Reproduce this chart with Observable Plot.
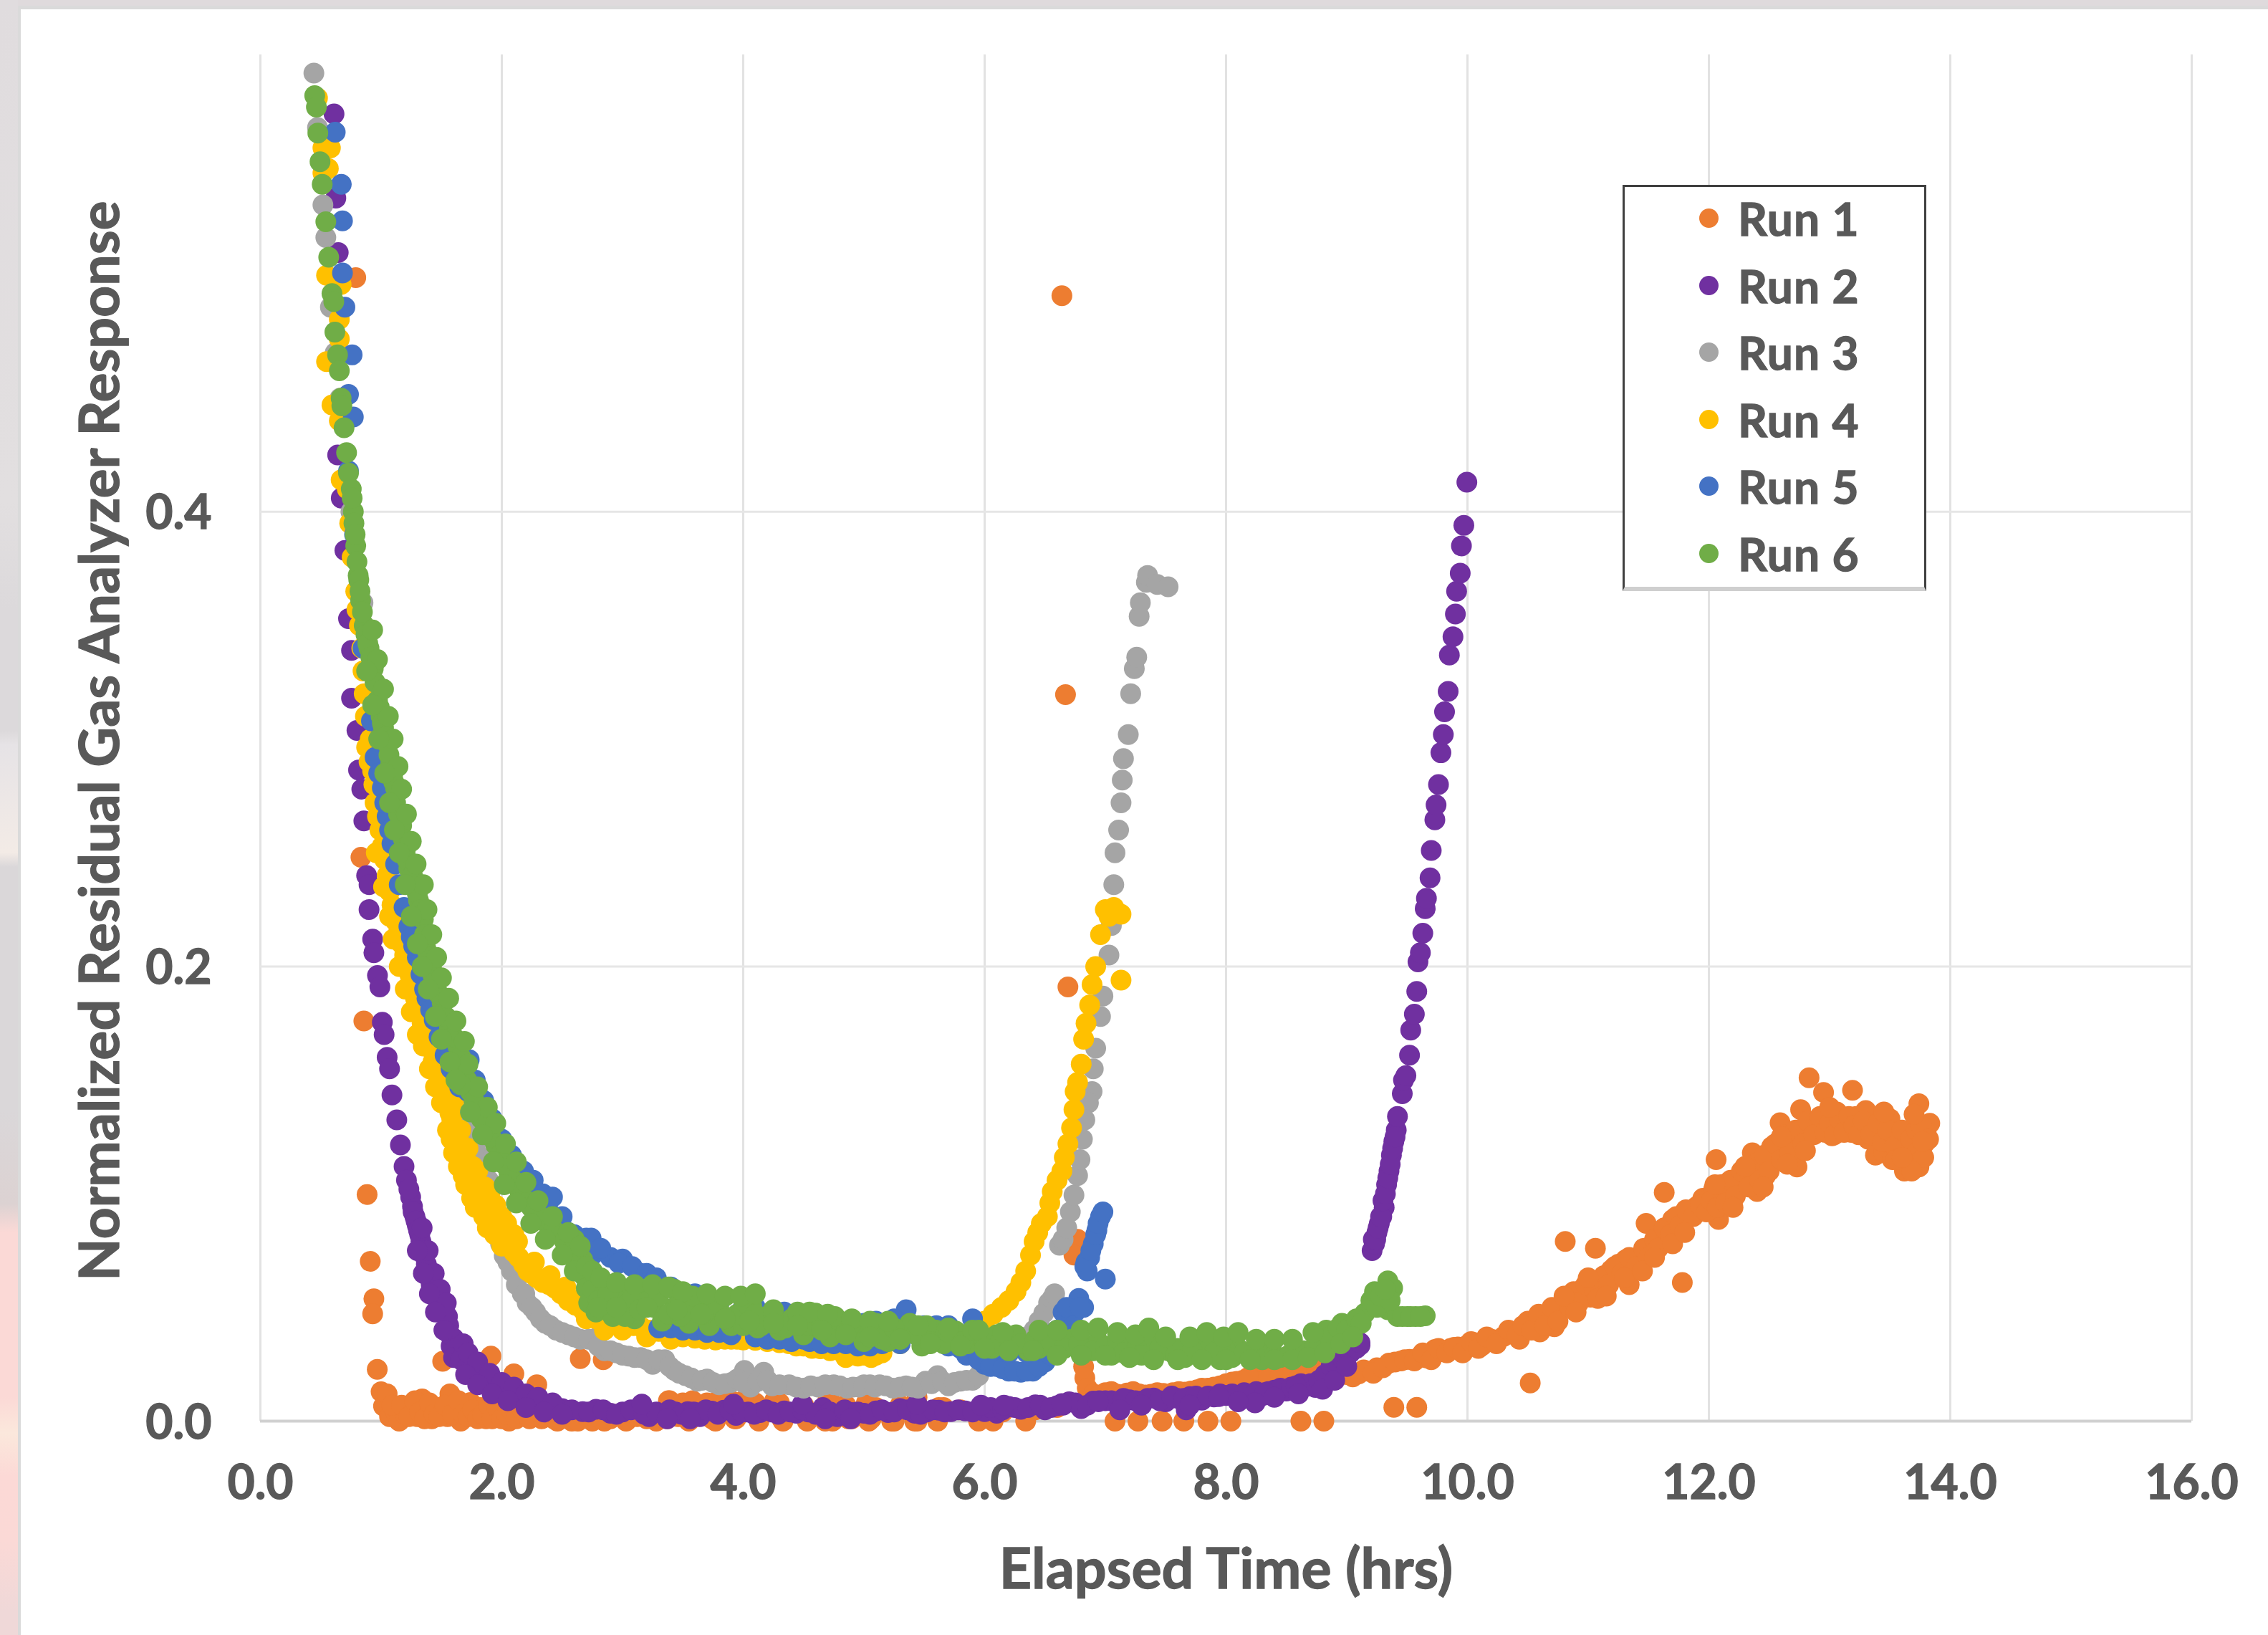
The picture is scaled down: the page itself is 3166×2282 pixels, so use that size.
<!DOCTYPE html>
<html>
<head>
<meta charset="utf-8">
<script src="https://cdn.jsdelivr.net/npm/d3@7"></script>
<script src="https://cdn.jsdelivr.net/npm/@observablehq/plot@0.6"></script>
<style>
html,body{margin:0;padding:0;width:3166px;height:2282px;overflow:hidden;background:#dfdadc;font-family:Lato,sans-serif}
#leftStrip{position:absolute;left:0;top:0;width:25px;height:2282px;background:linear-gradient(180deg,#e0dcde 0,#e2dfe0 700px,#dcd9db 850px,#dcd9db 1020px,#e6e3e6 1040px,#f3ebe6 1190px,#dad7d9 1210px,#dad7d9 1550px,#dcd2d2 1680px,#fbd9d6 1720px,#fbd9d6 1950px,#fbe8dc 2000px,#fcd9d6 2060px,#fbd9d6 2150px,#efd8d8 2250px)}
#frame{position:absolute;left:25px;top:8px;width:3141px;height:2274px;background:#dadada}
#card{position:absolute;left:29px;top:13px;width:3137px;height:2269px;background:#fff}
#chart{position:absolute;left:29px;top:13px}
#chart svg text{stroke:#595959;stroke-width:1.3px}
#legend{position:absolute;left:2265px;top:258px;width:418px;height:558px;background:#fff;border:3px solid #404040;border-bottom:6px solid #cfcfcf}
.row{position:absolute;left:0;height:60px;display:flex;align-items:center;color:#595959;font-weight:700;font-size:64px;letter-spacing:1px;-webkit-text-stroke:1.3px #595959}
.swatch{position:absolute;left:104px;width:27px;height:27px;border-radius:50%;top:16px}
.row span.t{position:absolute;left:158px;top:-6px;line-height:72px;white-space:nowrap}
</style>
</head>
<body>
<div id="leftStrip"></div><div id="frame"></div><div id="card"></div>
<div id="chart"></div><div id="legend"></div>
<script>
const runNames = ["Run 1","Run 2","Run 3","Run 4","Run 5","Run 6"];
const runColors = ["#ED7D31","#7030A0","#A5A5A5","#FFC000","#4472C4","#70AD47"];
const xTicks = [0,2,4,6,8,10,12,14,16];
const yTicks = [0,0.2,0.4];
const xTitle = "Elapsed Time (hrs)";
const yTitle = "Normalized Residual Gas Analyzer Response";

const run1 = [[.79,.503],[.833,.248],[.857,.176],[.884,.0997],[.91,.0703],[.94,.0538],[.93,.0472],[.968,.0228],[1.0,.0129],[1.02,.0066],[1.05,.012],[1.07,.002],[1.12,.004],[1.15,0],[1.2,.003],[1.26,.0066],[1.3,.002],[1.34,.0098],[1.38,.004],[1.42,.001],[1.46,.006],[1.51,.0263],[1.55,.002],[1.57,.012],[1.62,.005],[1.66,0],[1.7,.007],[1.74,.0082],[1.78,.002],[1.82,.006],[1.91,.0286],[1.87,.001],[1.94,.005],[1.98,.002],[2.02,.006],[2.06,0],[2.1,.0208],[2.14,.004],[2.2,.002],[2.29,.016],[2.27,.003],[2.33,.001],[2.4,.003],[2.46,0],[2.52,.002],[2.58,0],[2.65,.0275],[2.84,.027],[2.7,.002],[2.78,.001],[2.85,0],[2.94,.003],[3.03,0],[3.12,.002],[3.2,.001],[3.28,0],[3.38,.009],[3.46,.002],[3.5,.008],[3.55,0],[3.7,.008],[3.74,.001],[3.9,.009],[3.93,.001],[4.1,.008],[4.13,0],[4.3,.008],[4.33,0],[4.5,.007],[4.53,0],[4.7,.009],[4.74,0],[4.85,.007],[4.9,.001],[5.04,0],[5.1,.006],[5.23,0],[5.3,.007],[5.42,0],[5.44,.0105],[5.61,0],[5.66,.006],[5.8,.005],[5.95,0],[6.07,0],[6.15,.004],[6.34,0],[6.42,.005],[6.6,.006],
[6.64,.495],[6.67,.3196],[6.69,.191],[6.77,.08],[6.74,.073],
[6.82,.024],[6.83,.019],[6.85,.0145],[6.9,.012],[7.0,.0125],[7.08,0],[7.1,.0118],[7.18,.0124],[7.27,0],[7.28,.012],[7.38,.0118],[7.47,0],[7.48,.0122],[7.56,.0125],[7.65,0],[7.66,.0128],[7.76,.0138],[7.85,0],[7.85,.0145],[7.95,.0155],[8.04,0],[8.05,.0172],[8.14,.018],[8.24,.0205],[8.3,.02],[8.4,.0205],[8.5,.021],[8.62,0],[8.6,.0212],[8.7,.0214],[8.81,0],[8.8,.0216],[8.9,.0214],[9.0,.0205],[9.1,.0208],[9.18,.022],[9.25,.0235],[9.35,.0255],[9.39,.0061],[9.45,.0265],[9.52,.0272],[9.58,.0061],[9.6,.0282],[9.66,.0278],[9.73,.0315],[9.8,.0305],[9.86,.032],[9.92,.0326],[10.0,.0335],[10.06,.0345],[10.12,.0332],[10.2,.036],[10.3,.0373],[10.38,.039],[10.43,.036],[10.5,.044],[10.52,.0168],[10.56,.0444],[10.6,.0392],[10.68,.046],[10.72,.0415],[10.81,.079],[10.78,.049],[10.82,.0515],[10.9,.0555],[10.95,.058],[11.02,.0545],[11.06,.076],[11.1,.057],[11.15,.063],[11.19,.0665],[11.25,.069],[11.31,.071],[11.34,.06],[11.37,.0705],[11.43,.0727],[11.48,.087],[11.52,.0765],[11.6,.08],[11.63,.1006],[11.66,.0845],[11.7,.0887],[11.78,.061],[11.78,.0905],[11.84,.092],[11.9,.0945],[11.95,.098],[12.0,.0976],[12.04,.102],[12.06,.115],[12.08,.0887],[12.12,.0995],[12.16,.105],[12.2,.101],[12.25,.107],[12.3,.105],[12.36,.118],[12.35,.109],[12.4,.101],[12.44,.113],[12.47,.108],[12.52,.1207],[12.57,.118],[12.59,.1313],[12.64,.122],[12.69,.125],[12.73,.1118],[12.76,.137],[12.75,.124],[12.8,.128],[12.83,.151],[12.85,.13],[12.89,.1295],[12.95,.1446],[12.94,.128],[12.98,.134],[13.02,.1255],[13.06,.136],[13.1,.129],[13.14,.1295],[13.19,.1455],[13.18,.127],[13.22,.134],[13.26,.128],[13.3,.1366],[13.32,.124],[13.36,.13],[13.38,.117],[13.42,.127],[13.45,.118],[13.5,.133],[13.52,.115],[13.55,.126],[13.58,.1224],[13.62,.11],[13.65,.12],[13.68,.115],[13.7,.127],[13.74,.1396],[13.74,.1118],[13.76,.118],[13.79,.1224],[13.8,.127],[13.83,.131],
[1.09,.007],[1.17,.007],[1.23,.002],[1.28,.009],[1.32,.004],[1.36,.001],[1.4,.008],[1.44,.003],[1.48,.002],[1.53,.007],[1.59,.003],[1.64,.009],[1.68,.003],[1.72,.002],[1.76,.005],[1.8,.001],[1.84,.003],[1.89,.007],[1.92,.001],[1.96,.006],[2.0,.001],[2.04,.003],[2.08,.005],[2.12,.001],[2.17,.005],[2.23,.001],[2.3,.004],[2.36,.002],[2.43,.001],[2.49,.002],[2.55,.001],[2.62,.001],[2.75,0],[2.9,.001],
[2.48,.001],[2.63,0],[2.82,.001],[3.37,.001],[3.56,.001],[3.77,0],[3.94,.001],[4.32,.001],[4.68,0],[4.87,.001],[5.06,.001],[5.25,0],[5.44,0],[3.39,.009],[3.58,.009],[3.79,.009],[4.0,.009],[4.26,.009],[4.72,.009],[5.02,.008],[5.62,.006],
[6.95,.0115],[7.05,.013],[7.14,.0115],[7.23,.013],[7.33,.0115],[7.43,.0125],[7.52,.0115],[7.61,.013],[7.71,.0132],[7.8,.0145],[7.9,.015],[8.0,.0165],[8.09,.0175],[8.19,.0195],[8.35,.0195],[8.45,.02],[8.55,.021],[8.65,.0205],[8.75,.0222],[8.85,.0205],[8.95,.021],[9.05,.0195],[9.14,.0225],[9.22,.021],[9.3,.0235],[9.4,.026],[9.48,.027],[9.56,.0265],[9.63,.03],[9.7,.027],[9.76,.032],[9.83,.03],[9.89,.0325],[9.96,.03],[10.03,.035],[10.09,.032],[10.16,.037],[10.24,.034],[10.34,.04],[10.41,.038],[10.46,.042],[10.53,.04],[10.59,.047],[10.64,.042],[10.7,.05],[10.75,.044],[10.85,.05],[10.88,.057],[10.92,.052],[10.98,.06],[11.05,.058],[11.08,.054],[11.13,.064],[11.17,.06],[11.22,.068],[11.28,.065],[11.34,.072],[11.4,.068],[11.46,.076],[11.5,.072],[11.55,.08],[11.58,.076],[11.63,.085],[11.68,.082],[11.73,.09],[11.76,.086],[11.81,.093],[11.87,.09],[11.93,.095],[11.98,.092],[12.02,.097],[12.07,.094],[12.1,.104],[12.14,.096],[12.18,.106],[12.22,.099],[12.27,.11],[12.33,.103],[12.38,.113],[12.42,.106],[12.46,.117],[12.5,.11],[12.55,.122],[12.6,.115],[12.62,.126],[12.67,.118],[12.72,.128],[12.78,.122],[12.82,.132],[12.87,.126],[12.92,.134],[12.96,.127],[13.0,.131],[13.04,.126],[13.08,.133],[13.12,.127],[13.16,.134],[13.2,.13],[13.24,.126],[13.28,.132],[13.34,.126],[13.4,.131],[13.44,.123],[13.48,.128],[13.54,.121],[13.6,.128],[13.63,.116],[13.67,.124],[13.72,.128],[13.72,.118],[13.78,.116],[13.76,.13],[13.82,.124],[13.68,.11],
[10.8,.055],[10.9,.048],[11.0,.063],[11.15,.055],[11.3,.063],[11.45,.066],[11.55,.072],[11.7,.078],[11.8,.083],[12.05,.104],[12.2,.094],[12.3,.112],[12.45,.103],[12.6,.125],[12.65,.113],[12.8,.119],[13.0,.138],[13.45,.136],[13.55,.115],[13.7,.135],[13.77,.123],[13.6,.116]];

const run2 = [[.61,.575],[.625,.538],[.645,.514],[.64,.425],[.67,.406],[.7,.383],[.73,.353],[.755,.339],[.755,.318],[.80,.3038],[.813,.2864],[.84,.278],[.857,.264],[.88,.24],[.9,.236],[.9,.225],[.93,.212],[.94,.206],[.97,.196],[.99,.191],[1.01,.1755],[1.025,.17],[1.05,.16],[1.07,.155],[1.09,.1435],[1.13,.1325],[1.16,.1215],[1.19,.112],[1.21,.106],[1.245,.0986],[1.26,.0945],[1.28,.09],[1.3,.086],[1.32,.082],[1.34,.077],[1.36,.0727],[1.39,.065],[1.415,.06],[1.45,.055],[1.49,.0507],[1.55,.046],[1.6,.0365],[1.58,.033],[1.64,.0286],[1.68,.0265],[1.76,.0223],[1.84,.019],[1.91,.016],[2.0,.014],[2.1,.0113],[2.2,.009],[2.29,.0074],[2.4,.0065],[2.5,.0055],[2.67,.0042],[2.78,.0052],[2.9,.0035],[3.0,.004],[3.14,.005],[3.22,.002],[3.34,.0032],[3.44,.004],[3.54,.0042],[3.64,.002],[3.74,.0044],[3.84,.0048],[3.94,.0025],[4.04,.004],[4.14,.0038],[4.24,.004],[4.34,.0045],[4.44,.0035],[4.54,.004],[4.66,.006],[4.78,.002],[4.9,.0038],[5.0,.0035],[5.1,.0045],[5.2,.0038],[5.3,.0055],[5.42,.0035],[5.52,.004],[5.62,.0048],[5.72,.0042],[5.84,.0045],[5.95,.0052],[6.0,.0042],[6.1,.0035],[6.2,.0065],[6.3,.0052],[6.42,.0072],[6.5,.005],[6.6,.0068],[6.7,.0085],[6.8,.0055],[6.9,.0088],[7.0,.009],[7.1,.0082],[7.2,.0094],[7.3,.0088],[7.4,.0102],[7.5,.0085],[7.6,.01],[7.7,.0108],[7.8,.0092],[7.9,.0106],[8.0,.0113],[8.1,.0105],[8.2,.012],[8.3,.0112],[8.4,.0136],[8.5,.0132],[8.58,.0145],[8.66,.0152],[8.74,.0148],[8.8,.0176],[8.84,.0195],[8.89,.0223],[8.94,.0256],[9.0,.0286],[9.05,.032],[9.11,.0334],
[9.21,.075],[9.23,.078],[9.25,.083],[9.27,.087],[9.29,.09],[9.31,.094],[9.33,.104],[9.35,.11],[9.37,.117],[9.39,.123],[9.41,.128],[9.42,.134],[9.46,.144],[9.47,.15],[9.49,.152],[9.52,.161],[9.53,.172],[9.56,.179],[9.58,.189],[9.59,.202],[9.61,.206],[9.63,.2146],[9.65,.2254],[9.66,.23],[9.69,.239],[9.7,.251],[9.73,.2645],[9.74,.271],[9.76,.28],[9.78,.294],[9.8,.302],[9.81,.312],[9.84,.321],[9.85,.337],[9.88,.345],[9.9,.355],[9.91,.365],[9.94,.373],[9.95,.385],[9.97,.394],[9.995,.413],
[1.23,.102],[1.265,.092],[1.29,.088],[1.31,.084],[1.33,.079],[1.35,.075],[1.375,.069],[1.4,.063],[1.43,.058],[1.47,.053],[1.52,.048],[1.56,.042],[1.57,.038],[1.62,.032],[1.6,.028],[1.66,.027],[1.72,.024],[1.8,.02],[1.88,.017],[1.95,.015],[2.05,.0125],[2.15,.01],[2.25,.008],[2.35,.007],[2.45,.006],[2.58,.005],[2.72,.004],[2.84,.005],[2.95,.003],[3.07,.005],[3.18,.003],[3.28,.004],[3.39,.005],[3.49,.003],[3.59,.004],[3.69,.005],[3.79,.003],[3.89,.005],[3.99,.004],[4.09,.003],[4.19,.005],[4.29,.003],[4.39,.004],[4.49,.005],[4.6,.003],[4.72,.004],[4.84,.005],[4.95,.004],[5.05,.003],[5.15,.005],[5.25,.004],[5.36,.005],[5.47,.003],[5.57,.005],[5.67,.004],[5.78,.005],[5.9,.004],[6.05,.006],[6.15,.005],[6.25,.006],[6.36,.006],[6.46,.007],[6.55,.006],[6.65,.007],[6.75,.008],[6.85,.007],[6.95,.009],[7.05,.009],[7.15,.01],[7.25,.009],[7.35,.01],[7.45,.009],[7.55,.011],[7.65,.01],[7.75,.011],[7.85,.011],[7.95,.012],[8.05,.012],[8.15,.0125],[8.25,.013],[8.35,.013],[8.45,.0145],[8.54,.015],[8.62,.0165],[8.7,.0165],[8.77,.018],[8.82,.0205],[8.87,.024],[8.92,.024],[8.97,.027],[9.03,.03],[9.08,.032],[9.11,.0345],[9.22,.08],[9.24,.08],[9.26,.085],[9.28,.09],[9.3,.097],[9.32,.1],[9.34,.107],[9.36,.113],[9.38,.12],[9.4,.125],
[3.16,.0075],[3.92,.0075],[4.49,.0075],[5.44,.0075],[3.37,.001],[3.56,.001],[4.68,.001],[4.89,.001],[5.97,.007],[6.16,.007],[6.64,.0077],[6.94,.0085],[7.94,.0108],[8.32,.0125],[8.58,.0155],[7.12,.005],[7.67,.005],[8.24,.008],[7.3,.007],[7.7,.007],[8.1,.0085],[8.4,.0105],[8.6,.012],[8.8,.014],[8.9,.018],[9.0,.024],
[1.68,.034],[1.72,.03],[1.8,.026],[1.9,.021],[2.0,.017],[2.1,.015],[2.2,.012],[2.3,.0105],[2.42,.008],[1.7,.0205],[1.8,.016],[1.92,.012],[2.05,.009],[2.2,.006],[2.35,.004],[2.5,.003],[1.34,.085],[1.39,.075],[1.44,.065],[1.49,.058],[1.54,.052],[1.3,.075],[1.35,.065],[1.4,.056],[1.45,.048],[1.52,.04]];

const run3 = [[.443,.593],[.473,.569],[.518,.535],[.542,.5206],[.58,.49],[.62,.47],[.66,.45],[.7,.44],[.75,.4],[.85,.36],[.95,.32],[1.05,.28],[1.2,.22],[1.35,.185],[1.5,.16],[1.59,.15],[1.64,.14],[1.7,.1325],[1.75,.125],[1.81,.1167],[1.86,.11],[1.91,.1026],[1.93,.0837],[1.96,.092],[2.02,.0727],[2.08,.066],[2.14,.0648],[2.17,.056],[2.21,.052],[2.28,.048],[2.36,.043],[2.45,.04],[2.55,.038],[2.65,.036],[2.78,.0365],[2.85,.031],[2.95,.03],[3.05,.0286],[3.15,.028],[3.25,.025],[3.35,.027],[3.43,.0223],[3.52,.02],[3.62,.0176],[3.7,.0185],[3.8,.016],[3.9,.017],[4.01,.0223],[4.06,.015],[4.17,.0215],[4.24,.0155],[4.38,.016],[4.5,.0145],[4.62,.015],[4.75,.016],[4.86,.0145],[4.96,.015],[5.05,.016],[5.13,.016],[5.24,.0145],[5.35,.0155],[5.45,.0145],[5.51,.0176],[5.61,.02],[5.7,.0155],[5.8,.0176],[5.9,.018],[6.0,.024],[6.1,.027],[6.2,.03],[6.3,.035],[6.41,.04],[6.89,.145],[6.86,.14],[6.9,.155],[6.92,.164],[6.96,.178],[6.98,.187],[7.03,.205],[7.05,.218],[7.07,.236],[7.08,.25],[7.11,.26],[7.13,.272],[7.14,.282],[7.15,.2914],[7.19,.302],[7.21,.32],[7.24,.331],[7.26,.336],[7.28,.354],[7.29,.36],[7.34,.369],[7.35,.372],[7.43,.368],[7.52,.367],
[.98,.31],[1.1,.26],[1.25,.21],[1.42,.175],[1.55,.155],[1.62,.145],[1.67,.137],[1.73,.128],[1.78,.121],[1.84,.113],[1.89,.106],[1.92,.095],[1.95,.086],[1.99,.078],[2.05,.07],[2.1,.067],[2.12,.06],[2.19,.056],[2.25,.05],[2.32,.045],[2.4,.042],[2.5,.039],[2.6,.037],[2.72,.036],[2.8,.033],[2.9,.031],[3.0,.029],[3.1,.028],[3.2,.027],[3.3,.027],[3.39,.024],[3.47,.021],[3.57,.019],[3.66,.018],[3.75,.017],[3.85,.0165],[3.95,.0185],[4.0,.017],[4.12,.0175],[4.2,.018],[4.3,.016],[4.44,.015],[4.56,.0155],[4.68,.016],[4.8,.0155],[4.91,.015],[5.0,.016],[5.09,.015],[5.18,.0155],[5.3,.015],[5.4,.015],[5.56,.0165],[5.65,.0175],[5.75,.017],[5.85,.018],[5.95,.02],[6.05,.025],[6.15,.029],[6.25,.032],[6.35,.037],[6.45,.044],[6.49,.0475],[6.53,.052],[6.56,.054],[6.58,.056],[6.62,.0774],[6.65,.08],[6.68,.085],[6.71,.092],[6.74,.0994],[6.77,.108],[6.79,.115],[6.81,.124],[6.83,.1325]];

const run4 = [[.473,.582],[.518,.56],[.58,.56],[.518,.549],[.563,.551],[.548,.504],[.669,.5],[.654,.4846],[.654,.476],[.548,.466],[.593,.447],[.654,.44],[.669,.414],[.72,.41],[.76,.38],[.82,.35],[.88,.2964],[.86,.32],[.93,.286],[.95,.272],[.99,.26],[1.03,.247],[1.07,.233],[1.12,.22],[1.17,.21],[1.22,.2],[1.26,.191],[1.31,.18],[1.38,.169],[1.43,.158],[1.49,.15],[1.53,.143],[1.57,.1356],[1.6,.13],[1.64,.1246],[1.68,.117],[1.72,.11],[1.78,.104],[1.83,.098],[1.9,.092],[1.985,.0853],[2.04,.08],[2.1,.0743],[2.18,.069],[2.25,.0648],[2.34,.061],[2.44,.0585],[2.55,.053],[2.67,.049],[2.78,.045],[2.9,.0428],[3.02,.044],[3.16,.0412],[3.3,.0395],[3.43,.038],[3.6,.0365],[3.77,.0357],[3.9,.036],[4.0,.0357],[4.2,.035],[4.38,.034],[4.5,.033],[4.64,.0318],[4.8,.031],[4.85,.028],[4.95,.0286],[5.06,.028],[5.15,.03],[5.3,.034],[5.5,.035],[5.7,.036],[5.9,.038],
[6.0,.044],[6.07,.047],[6.14,.05],[6.2,.053],[6.26,.057],[6.3,.061],[6.34,.066],[6.38,.073],[6.41,.079],[6.44,.083],[6.47,.087],[6.52,.09],[6.54,.096],[6.56,.101],[6.6,.106],[6.64,.11],[6.66,.116],[6.69,.122],[6.72,.129],[6.74,.137],[6.75,.145],[6.77,.149],[6.8,.157],[6.82,.168],[6.84,.175],[6.87,.183],[6.89,.192],[6.92,.2],[6.96,.214],[7.0,.225],[7.07,.226],[7.03,.222],[7.13,.223],[7.13,.194],
[.74,.395],[.79,.365],[.8,.357],[.84,.34],[.85,.33],[.87,.31],[.9,.29],[.91,.3],[.94,.28],[.97,.266],[1.01,.253],[1.05,.24],[1.09,.227],[1.145,.215],[1.195,.205],[1.24,.196],[1.285,.186],[1.34,.175],[1.405,.164],[1.46,.154],[1.51,.147],[1.55,.14],[1.585,.133],[1.62,.127],[1.66,.121],[1.7,.114],[1.75,.107],[1.8,.101],[1.865,.095],[1.94,.088],[2.01,.083],[2.07,.077],[2.14,.072],[2.215,.066],[2.29,.063],[2.39,.06],[2.49,.056],[2.61,.051],[2.72,.047],[2.84,.044],[2.96,.043],[3.09,.042],[3.23,.04],[3.36,.039],[3.5,.037],[3.68,.036],[3.85,.036],[3.95,.036],[4.1,.0355],[4.3,.0345],[4.44,.033],[4.57,.032],[4.72,.031],[4.88,.03],[5.0,.029],[5.1,.029],
[1.62,.125],[1.7,.118],[1.76,.112],[1.86,.103],[1.95,.095],[2.04,.087],[2.13,.079],[2.27,.07],[2.4,.064],[2.53,.059],[2.66,.054],[2.8,.049],[2.7,.045],[2.85,.04],[3.0,.04],[3.2,.037],[3.4,.036],[1.6,.118],[1.68,.108],[1.75,.098],[1.85,.09],[1.94,.082],[2.0,.077],
[1.5,.14],[1.55,.128],[1.58,.124],[1.64,.112],[1.7,.104],[1.78,.094],[1.88,.085],[1.66,.128],[1.72,.12],[1.8,.11],[1.9,.1],[2.0,.09],[2.1,.082],[1.35,.165],[1.4,.155],[1.45,.147],[1.3,.17],[1.2,.19],[1.25,.18],[1.1,.212],[1.15,.2],[1.02,.235],[1.07,.222],[.96,.25],[1.45,.164],[1.5,.155],[1.55,.148],[1.6,.14]];

const run5 = [[.62,.567],[.67,.544],[.68,.528],[.68,.505],[.7,.49],[.76,.469],[.73,.4516],[.77,.4417],[.73,.418],[.78,.39],[.85,.34],[.92,.308],[.95,.292],[1.01,.2785],[1.05,.266],[1.09,.254],[1.15,.236],[1.23,.2176],[1.33,.2138],[1.27,.209],[1.33,.1965],[1.38,.186],[1.44,.1765],[1.53,.161],[1.73,.159],[1.72,.145],[1.85,.132],[1.95,.125],[2.05,.116],[2.15,.108],[2.22,.106],[2.3,.1],[2.38,.0935],[2.45,.088],[2.55,.083],[2.65,.076],[2.75,.073],[2.9,.072],[3.0,.0713],[3.15,.065],[3.3,.06],[3.5,.055],[3.7,.05],[4.0,.05],[4.5,.045],[4.9,.04],[5.0,.043],[5.35,.049],[5.6,.042],[5.8,.032],[5.9,.045],[6.0,.025],[6.1,.024],[6.2,.022],[6.3,.0215],[6.4,.022],[6.5,.026],[6.6,.032],[6.65,.048],[6.7,.04],[6.72,.045],[6.75,.048],[6.78,.054],[6.82,.05],[6.83,.068],[6.85,.066],[6.87,.072],[6.9,.078],[6.93,.084],[6.96,.09],[7.0,.0625],
[.98,.285],[1.03,.272],[1.07,.26],[1.12,.245],[1.19,.226],[1.25,.213],[1.3,.204],[1.36,.19],[1.41,.181],[1.48,.169],[1.58,.155],[1.65,.147],[1.78,.15],[1.85,.141],[1.92,.133],[2.0,.124],[2.08,.117],[2.18,.11],[2.26,.106],[2.34,.1],[2.42,.0986],[2.5,.09],[2.6,.082],[2.7,.0805],[2.74,.0805],[2.82,.076],[2.97,.0695],[3.08,.068],[3.2,.065],[3.28,.063],[3.4,.059],[3.6,.056],[3.8,.052],[4.1,.05],[4.34,.048],[4.7,.045],[5.1,.044],[5.25,.045],[5.5,.042],[5.7,.042],
[3.3,.041],[3.4,.041],[3.5,.04],[3.6,.04],[3.7,.039],[3.8,.039],[3.9,.038],[4.1,.037],[4.2,.036],[4.3,.036],[4.4,.035],[4.5,.036],[4.55,.035],[4.65,.034],[4.75,.034],[4.85,.034],[4.95,.033],[5.05,.033],[5.15,.034],[5.3,.034],[5.5,.034],[5.7,.033],[5.85,.029],[5.95,.027],[6.05,.024],[6.15,.023],[6.25,.022],[6.35,.022],[6.45,.024],[6.55,.029],[6.6,.04],[6.2,.03],[6.35,.03],[6.5,.034],[6.62,.04],[6.68,.05],[6.74,.042],[6.79,.05],[6.84,.07],[6.88,.075],[6.92,.082],[6.94,.087],[6.98,.092]];

const run6 = [[.45,.583],[.464,.578],[.476,.5666],[.494,.554],[.512,.544],[.542,.5276],[.566,.512],[.593,.496],[.608,.4924],[.617,.479],[.639,.469],[.654,.462],[.669,.45],[.675,.4466],[.693,.437],[.714,.426],[.73,.417],[.753,.41],[.77,.4],[.79,.385],[.81,.372],[.83,.361],[.86,.35],[.9,.34],[.935,.331],[.97,.317],[1.0,.31],[1.02,.305],[1.05,.298],[1.08,.289],[1.12,.2785],[1.12,.272],[1.17,.262],[1.2,.251],[1.23,.243],[1.29,.236],[1.31,.229],[1.35,.2207],[1.37,.208],[1.417,.2],[1.447,.192],[1.506,.184],[1.566,.173],[1.635,.165],[1.685,.155],[1.74,.145],[1.795,.137],[1.87,.129],[1.95,.1215],[2.02,.113],[2.1,.1057],[2.2,.097],[2.29,.0916],[2.38,.0865],[2.48,.082],[2.57,.076],[2.67,.071],[2.68,.064],[2.7,.0585],[2.72,.052],[2.78,.048],[2.85,.06],[2.92,.046],[3.0,.057],[3.05,.052],[3.1,.045],[3.18,.058],[3.26,.05],[3.33,.044],[3.43,.058],[3.43,.05],[3.55,.043],[3.62,.05],[3.72,.042],[3.8,.049],[3.9,.042],[4.07,.0507],[4.0,.042],[4.12,.041],[4.19,.046],[4.3,.04],[4.4,.045],[4.5,.038],[4.6,.0475],[4.72,.037],[4.8,.044],[4.95,.041],[5.0,.035],[5.1,.043],[5.2,.035],[5.34,.0404],[5.38,.043],[5.48,.033],[5.6,.04],[5.76,.0396],[5.86,.034],[5.95,.039],[6.06,.032],[6.18,.037],[6.26,.038],[6.36,.031],[6.5,.036],[6.6,.03],[6.72,.036],[6.84,.033],[6.94,.035],[7.05,.029],[7.2,.033],[7.36,.035],[7.4,.028],[7.52,.031],[7.66,.028],[7.8,.03],[7.84,.0326],[7.95,.027],[8.1,.032],[8.2,.028],[8.35,.031],[8.45,.028],[8.58,.03],[8.7,.031],[8.78,.036],[8.83,.04],[8.9,.037],[8.96,.043],[9.05,.041],[9.15,.0475],[9.2,.053],[9.23,.057],[9.3,.052],[9.34,.0617],[9.38,.0585],[9.34,.049],[9.42,.046],[9.5,.046],[9.57,.046],[9.65,.0463],
[.76,.406],[.775,.395],[.785,.39],[.80,.378],[.815,.37],[.825,.365],[.845,.356],[.875,.346],[.89,.342],[.915,.336],[.95,.325],[.985,.314],[1.01,.307],[1.035,.301],[1.065,.293],[1.095,.284],[1.105,.281],[1.145,.267],[1.185,.256],[1.215,.247],[1.26,.24],[1.3,.232],[1.33,.225],[1.36,.214],[1.39,.204],[1.43,.196],[1.475,.188],[1.535,.178],[1.6,.169],[1.66,.16],[1.71,.15],[1.77,.141],[1.83,.133],[1.91,.125],[1.985,.117],[2.06,.109],[2.15,.101],[2.245,.094],[2.33,.089],[2.43,.084],[2.52,.079],[2.62,.073],[2.6,.08],
[1.72,.157],[1.8,.147],[1.88,.138],[1.95,.131],[2.03,.122],[2.12,.114],[2.2,.105],[2.3,.097],[2.42,.09],[2.55,.083],[2.65,.077],[1.66,.148],[1.74,.136],[1.84,.126],[1.93,.114],[2.02,.104],[2.12,.096],[2.24,.087],[2.36,.08],[2.5,.073],[2.6,.066],
[2.7,.068],[2.75,.058],[2.8,.053],[2.88,.056],[2.95,.05],[3.02,.046],[3.08,.054],[3.14,.049],[3.22,.053],[3.3,.055],[3.38,.047],[3.48,.046],[3.52,.052],[3.58,.055],[3.67,.047],[3.76,.052],[3.85,.045],[3.95,.047],[4.02,.052],[4.1,.047],[4.15,.042],[4.25,.045],[4.35,.041],[4.45,.047],[4.55,.042],[4.65,.043],[4.76,.046],[4.85,.039],[4.9,.043],[5.05,.039],[5.15,.036],[5.25,.041],[5.3,.036],[5.43,.038],[5.52,.042],[5.55,.035],[5.66,.034],[5.7,.039],[5.82,.035],[5.9,.04],[6.0,.035],[6.1,.038],[6.12,.034],[6.22,.033],[6.3,.034],[6.42,.036],[6.45,.032],[6.55,.035],[6.66,.032],[6.78,.034],[6.9,.031],[7.0,.033],[7.1,.035],[7.15,.03],[7.26,.032],[7.3,.029],[7.45,.032],[7.58,.029],[7.6,.032],[7.72,.031],[7.9,.03],[8.0,.031],[8.05,.028],[8.15,.03],[8.25,.032],[8.3,.027],[8.4,.029],[8.52,.029],[8.64,.031],[8.74,.033],[8.86,.037],[8.93,.041],[9.0,.04],[9.08,.045],[9.12,.043],[9.25,.05],[9.28,.055],[9.36,.053],[9.32,.058],[9.46,.046],[9.53,.046],[9.61,.046],
[.93,.348],[.97,.335],[1.02,.322],[1.06,.31],[1.1,.3],[1.14,.288],[1.17,.278],[1.21,.267],[1.25,.255],[1.29,.245],[1.35,.236],[1.38,.225],[1.42,.214],[1.46,.204],[1.5,.195],[1.56,.186],[1.62,.176],[1.69,.167],[.88,.33],[.93,.315],[.98,.3],[1.03,.285],[1.07,.272],[1.11,.26],[1.15,.25],[1.2,.236],[1.25,.222],[1.3,.21],[1.34,.2],[1.39,.19],[1.45,.178],[1.5,.168],[1.57,.158],[1.62,.15],
[2.75,.066],[2.82,.063],[2.95,.061],[3.1,.06],[3.25,.06],[3.38,.059],[3.5,.057],[3.7,.056],[3.85,.055],[3.98,.055],[4.1,.056],[4.25,.049],[4.45,.048],[4.55,.048],[4.7,.047],[4.9,.045],[5.05,.044],[5.2,.044],[5.45,.042],[5.7,.041],[5.95,.04],[6.15,.039],[2.8,.05],[2.95,.05],[3.2,.05],[3.45,.049],[3.65,.047],[3.85,.045],[4.05,.044],[4.25,.043],[4.45,.042],[4.65,.04],[4.85,.038],[5.05,.037],[5.3,.036],[5.55,.034],[5.8,.033],[6.0,.032],[6.2,.031],[6.4,.031],
[6.45,.04],[6.6,.04],[6.8,.04],[6.94,.041],[7.1,.039],[7.25,.038],[7.36,.041],[7.5,.037],[7.7,.037],[7.84,.039],[7.98,.037],[8.1,.039],[8.25,.036],[8.4,.036],[8.55,.036],[8.72,.039],[6.6,.029],[6.8,.029],[7.0,.029],[7.2,.028],[7.4,.027],[7.6,.027],[7.8,.027],[8.0,.027],[8.2,.027],[8.4,.027],[8.55,.027],[8.68,.028],[8.82,.03],[8.95,.034],[9.05,.037]];

const allRuns = [run1,run2,run3,run4,run5,run6];
const rows = allRuns.flatMap((r,i)=>r.map(([x,y])=>({x,y,run:runNames[i]})));

const plot = Plot.plot({
  width:3137, height:2269,
  marginLeft:334, marginRight:107, marginTop:63, marginBottom:299,
  x:{domain:[0,16]}, y:{domain:[0,0.601]},
  color:{domain:runNames, range:runColors},
  style:{fontFamily:"Lato, sans-serif", fontWeight:700, background:"transparent", overflow:"visible"},
  marks:[
    Plot.ruleX(xTicks,{stroke:"#e2e2e2",strokeWidth:3}),
    Plot.ruleY([0.2,0.4],{stroke:"#e6e6e6",strokeWidth:3}),
    Plot.ruleY([0],{stroke:"#d0d0d0",strokeWidth:4}),
    Plot.axisX({ticks:xTicks,tickFormat:d3.format(".1f"),tickSize:0,tickPadding:62,fontSize:66,fontWeight:700,fill:"#595959",label:null}),
    Plot.axisY({ticks:yTicks,tickFormat:d3.format(".1f"),tickSize:0,tickPadding:68,fontSize:66,fontWeight:700,fill:"#595959",label:null,dy:3}),
    Plot.text([xTitle],{text:d=>d,frameAnchor:"bottom",lineAnchor:"middle",dy:208,fontSize:79,fontWeight:700,fill:"#595959"}),
    Plot.text([yTitle],{text:d=>d,frameAnchor:"left",textAnchor:"middle",lineAnchor:"middle",rotate:-90,dx:-222,dy:4,fontSize:77,fontWeight:700,fill:"#595959"}),
    Plot.dot(rows,{x:"x",y:"y",r:14.5,fill:"run"})
  ]
});
document.getElementById("chart").appendChild(plot);

const legend = document.getElementById("legend");
runNames.forEach((name,i)=>{
  const row = document.createElement("div");
  row.className = "row";
  row.style.top = (14 + i*93.6) + "px";
  row.style.width = "100%";
  const s = document.createElement("div");
  s.className = "swatch";
  s.style.background = runColors[i];
  const t = document.createElement("span");
  t.className = "t";
  t.textContent = name;
  row.append(s,t);
  legend.appendChild(row);
});
</script>
</body>
</html>
